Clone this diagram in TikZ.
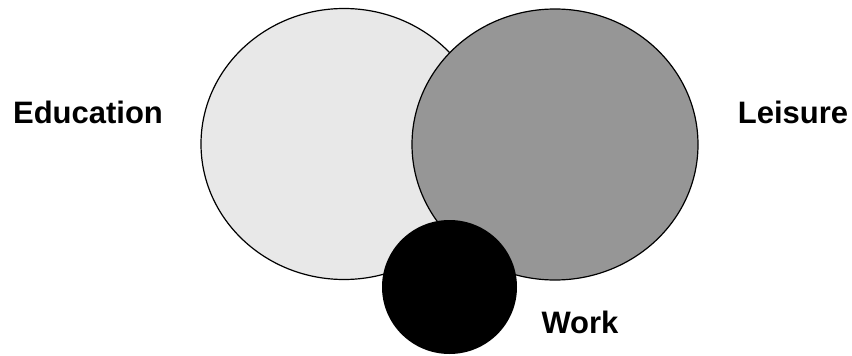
\documentclass[tikz,border=0pt]{standalone}
\usepackage{fontspec}
\setmainfont{Liberation Sans}
\definecolor{edufill}{HTML}{E8E8E8}
\definecolor{leifill}{HTML}{969696}
\begin{document}
\begin{tikzpicture}[x=1pt,y=-1pt,
  setshape/.style={draw=black,line width=1.2pt},
  lbl/.style={font=\fontsize{31}{31}\selectfont\bfseries,inner sep=0pt,anchor=base}]
\useasboundingbox (0,0) rectangle (852,356);
\fill[white] (0,0) rectangle (852,356);
\draw[setshape,fill=edufill] (344,144) ellipse [x radius=143,y radius=135.5];
\draw[setshape,fill=leifill] (555,144.5) ellipse [x radius=143,y radius=135.5];
\fill[black] (449.5,287) ellipse [x radius=67.5,y radius=67];
\node[lbl] (edu) at (88,123) {Education};
\node[lbl] (lei) at (793,123) {Leisure};
\node[lbl] (work) at (580,333) {Work};
\end{tikzpicture}
\end{document}
